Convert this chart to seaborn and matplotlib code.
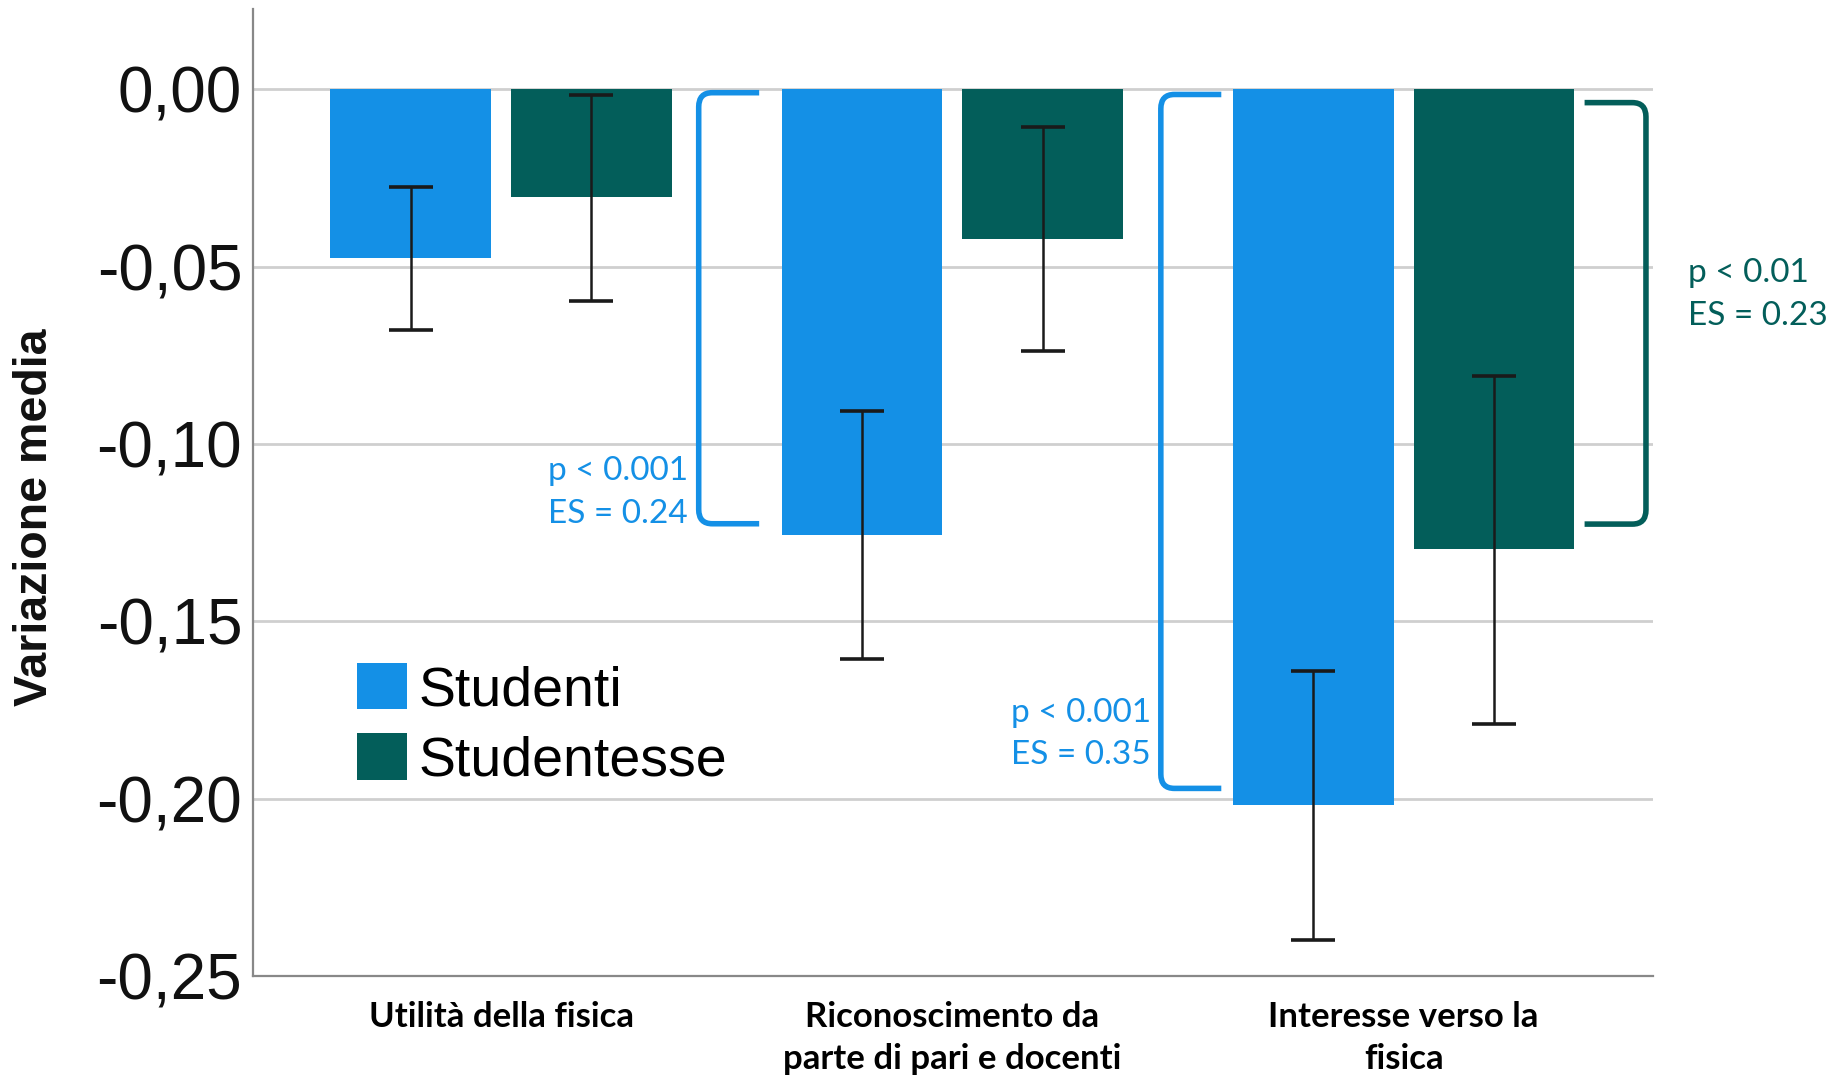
import numpy as np
import pandas as pd
import seaborn as sns
import matplotlib.pyplot as plt
from matplotlib.path import Path
from matplotlib.patches import PathPatch

categorie = ["Utilità della fisica",
             "Riconoscimento da\nparte di pari e docenti",
             "Interesse verso la\nfisica"]
gruppi = ["Studenti", "Studentesse"]

media_studenti = [-0.0475, -0.1256, -0.2018]
media_studentesse = [-0.0304, -0.0421, -0.1295]
ci_basso_studenti = [-0.0680, -0.1607, -0.2398]
ci_alto_studenti = [-0.0277, -0.0907, -0.1641]
ci_basso_studentesse = [-0.0598, -0.0738, -0.1790]
ci_alto_studentesse = [-0.0017, -0.0106, -0.0809]

tick_y = [0.00, -0.05, -0.10, -0.15, -0.20, -0.25]

BLU = "#1490E6"
VERDE = "#035E5A"

df = pd.DataFrame({
    "categoria": categorie * 2,
    "gruppo": [gruppi[0]] * 3 + [gruppi[1]] * 3,
    "media": media_studenti + media_studentesse,
})

fig = plt.figure(figsize=(18.38, 10.85), dpi=100)
ax = fig.add_axes([0.1378, 0.1004, 0.7614, 0.891])

sns.barplot(data=df, x="categoria", y="media", hue="gruppo", order=categorie,
            hue_order=gruppi, palette={gruppi[0]: BLU, gruppi[1]: VERDE},
            saturation=1, width=0.8, gap=0.11, errorbar=None, linewidth=0, ax=ax)

# error bars on the bar centres
ci = [(ci_basso_studenti, ci_alto_studenti), (ci_basso_studentesse, ci_alto_studentesse)]
medie = [media_studenti, media_studentesse]
for cont, (lo, hi), m in zip(ax.containers, ci, medie):
    xs = [p.get_x() + p.get_width() / 2 for p in cont.patches]
    m = np.array(m)
    err = [m - np.array(lo), np.array(hi) - m]
    ax.errorbar(xs, m, yerr=err, fmt="none", ecolor="#1a1a1a", elinewidth=1.8,
                capsize=16, capthick=2.6, zorder=5)

ax.set_xlim(-0.549, 2.552)
ax.set_ylim(-0.25, 0.0225)
ax.set_yticks(tick_y)
ax.set_yticklabels([f"{v:.2f}".replace(".", ",") for v in tick_y],
                   fontsize=46, family="Liberation Sans", color="#111111")
ax.set_xticks(range(len(categorie)))
ax.set_xticklabels(categorie, fontsize=25, family="Lato", fontweight="bold",
                   linespacing=1.4, va="top")
ax.tick_params(axis="both", length=0)
ax.tick_params(axis="y", pad=8)
ax.tick_params(axis="x", pad=18)
ax.set_xlabel("")
ax.set_ylabel("")
ax.yaxis.grid(True, color="#CFCFCF", linewidth=2)
ax.set_axisbelow(True)
for s in ["top", "right"]:
    ax.spines[s].set_visible(False)
for s in ["left", "bottom"]:
    ax.spines[s].set_color("#888888")
    ax.spines[s].set_linewidth(1.6)

fig.text(0.0191, 0.523, "Variazione media", rotation=90, ha="center", va="center",
         fontsize=33.5, fontweight="bold", family="Liberation Sans", color="#111111")

h, l = ax.get_legend_handles_labels()
ax.legend(h, l, loc="upper left", bbox_to_anchor=(0.0742, 0.3237), frameon=False,
          prop={"family": "Liberation Sans", "size": 40}, handlelength=0.9,
          handleheight=0.9, handletextpad=0.2, labelspacing=0.29,
          borderpad=0, borderaxespad=0)


def parentesi(x_end, x_v, y_top, y_bot, colore):
    s = np.sign(x_end - x_v)
    rx, ry = 0.03 * s, 0.004
    verts = [(x_end, y_top), (x_v + rx, y_top), (x_v, y_top), (x_v, y_top - ry),
             (x_v, y_bot + ry), (x_v, y_bot), (x_v + rx, y_bot), (x_end, y_bot)]
    codes = [Path.MOVETO, Path.LINETO, Path.CURVE3, Path.CURVE3,
             Path.LINETO, Path.CURVE3, Path.CURVE3, Path.LINETO]
    ax.add_patch(PathPatch(Path(verts, codes), fill=False, edgecolor=colore,
                           linewidth=4, capstyle="butt", clip_on=False, zorder=6))


parentesi(0.572, 0.438, -0.0010, -0.1225, BLU)
parentesi(1.596, 1.462, -0.0015, -0.1971, BLU)
parentesi(2.401, 2.537, -0.0038, -0.1226, VERDE)

ann = dict(fontsize=24, family="Lato", ha="left", va="center", linespacing=1.52,
           clip_on=False, zorder=7)
ax.text(0.104, -0.1137, "p < 0.001\nES = 0.24", color=BLU, **ann)
ax.text(1.129, -0.1817, "p < 0.001\nES = 0.35", color=BLU, **ann)
ax.text(2.630, -0.0579, "p < 0.01\nES = 0.23", color=VERDE, **ann)

fig.savefig("out.png", dpi=100)
